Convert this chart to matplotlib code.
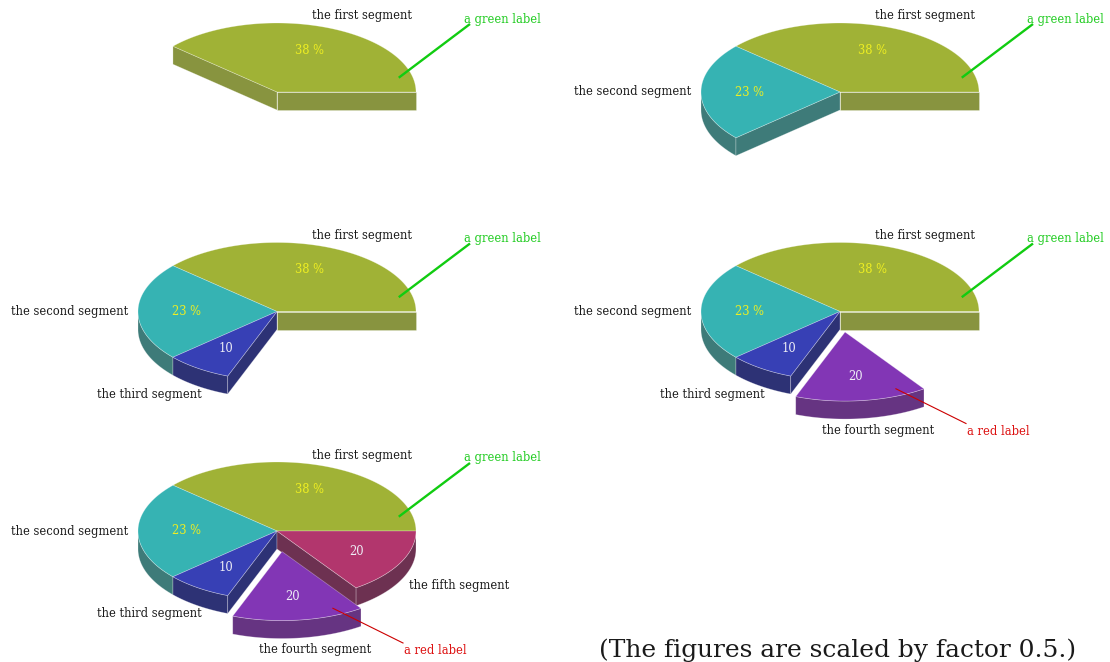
import numpy as np
import matplotlib
matplotlib.use("Agg")
import matplotlib.pyplot as plt
from matplotlib.patches import Polygon

# ---- data -------------------------------------------------------------
segment_names = ["the first segment", "the second segment", "the third segment",
                 "the fourth segment", "the fifth segment"]
values = [50, 30, 10, 20, 20]
show_percent = [True, True, False, False, False]
explode = [0.0, 0.0, 0.0, 0.3, 0.0]
segments_per_panel = [1, 2, 3, 4, 5]

top_colors = ["#a0b236", "#36b3b3", "#3740b5", "#8236b5", "#b2366d"]
side_colors = ["#88943f", "#3e7b79", "#2d3275", "#663482", "#6d3151"]
value_colors = ["#eeee22", "#eeee22", "#eeeef6", "#eeeef6", "#eeeef6"]

# ---- layout -----------------------------------------------------------
RX, RY, DEPTH = 139.0, 69.0, 18.0
panel_centers = [(277, 92), (840, 92), (277, 311.5), (840, 311.5), (277, 531)]
name_offsets = [(85, -76, "center"), (-149, 0, "right"), (-128, 83, "center"),
                (38, 119, "center"), (132, 54, "left")]
FS = 8.3
SERIF = "DejaVu Serif"

total = float(sum(values))
spans = [v / total * 360.0 for v in values]
starts = np.concatenate([[0.0], np.cumsum(spans)[:-1]])
ends = starts + np.array(spans)
mids = (starts + ends) / 2
value_labels = [f"{round(v / total * 100)} %" if pct else f"{v}"
                for v, pct in zip(values, show_percent)]


def pt(cx, cy, t, r=1.0, dz=0.0):
    t = np.radians(t)
    return np.column_stack([cx + r * RX * np.cos(t), cy - r * RY * np.sin(t) + dz])


fig = plt.figure(figsize=(11.1, 6.62), dpi=100)
ax = fig.add_axes([0, 0, 1, 1])
ax.set_xlim(0, 1110)
ax.set_ylim(662, 0)
ax.axis("off")

edge_kw = dict(edgecolor=(1, 1, 1, 0.35), linewidth=0.5, joinstyle="round")


def draw_segment(cx, cy, i, exposed_start, exposed_end):
    a, b = starts[i], ends[i]
    m = np.radians(mids[i])
    x0 = cx + explode[i] * RX * np.cos(m)
    y0 = cy - explode[i] * RY * np.sin(m)
    # curved outer wall, front half only
    lo, hi = max(a, 180.0), min(b, 360.0)
    if hi > lo:
        tt = np.linspace(lo, hi, 80)
        top = pt(x0, y0, tt)
        bot = pt(x0, y0, tt[::-1], dz=DEPTH)
        ax.add_patch(Polygon(np.vstack([top, bot]), closed=True,
                             facecolor=side_colors[i], **edge_kw))
    # radial walls where no neighbour covers them
    for ang, exposed, face in ((a, exposed_start, np.cos(np.radians(a)) >= 0),
                               (b, exposed_end, np.cos(np.radians(b)) < 0)):
        if exposed and face:
            rim = pt(x0, y0, [ang])[0]
            poly = [(x0, y0), rim, (rim[0], rim[1] + DEPTH), (x0, y0 + DEPTH)]
            ax.add_patch(Polygon(poly, closed=True, facecolor=side_colors[i], **edge_kw))
    # top face
    tt = np.linspace(a, b, 160)
    arc = pt(x0, y0, tt)
    ax.add_patch(Polygon(np.vstack([[x0, y0], arc]), closed=True,
                         facecolor=top_colors[i], **edge_kw))
    # value inside
    lp = pt(x0, y0, [mids[i]], r=0.65)[0]
    ax.text(lp[0], lp[1], value_labels[i], color=value_colors[i], fontsize=FS,
            family=SERIF, ha="center", va="center")
    return x0, y0


for p, (cx, cy) in enumerate(panel_centers):
    n = segments_per_panel[p]
    shown = list(range(n))
    order = [i for i in shown if explode[i] == 0] + [i for i in shown if explode[i] != 0]
    origins = {}
    for i in order:
        prev_i = (i - 1) % len(values)
        next_i = (i + 1) % len(values)
        exp_s = (prev_i not in shown) or explode[prev_i] != 0 or explode[i] != 0
        exp_e = (next_i not in shown) or explode[next_i] != 0 or explode[i] != 0
        origins[i] = draw_segment(cx, cy, i, exp_s, exp_e)
    for i in shown:
        dx, dy, ha = name_offsets[i]
        ax.text(cx + dx, cy + dy, segment_names[i], fontsize=FS, family=SERIF,
                color="#1a1a1a", ha=ha, va="center")
    # green pin on the first segment
    gx, gy = origins[0]
    g0 = pt(gx, gy, [13.3], r=0.9)[0]
    ax.plot([g0[0], cx + 193], [g0[1], cy - 68], color="#11cc11", lw=1.7,
            solid_capstyle="butt")
    ax.text(cx + 187, cy - 73, "a green label", fontsize=FS, family=SERIF,
            color="#22cc22", ha="left", va="center")
    # red pin on the fourth segment
    if 3 in shown:
        rx0, ry0 = origins[3]
        r0 = pt(rx0, ry0, [294.0], r=0.9)[0]
        ax.plot([r0[0], cx + 126], [r0[1], cy + 112], color="#cc0000", lw=0.8)
        ax.text(cx + 127, cy + 120, "a red label", fontsize=FS, family=SERIF,
                color="#dd1111", ha="left", va="center")

ax.text(838, 650, "(The figures are scaled by factor 0.5.)", fontsize=17.9,
        family=SERIF, color="#1a1a1a", ha="center", va="center")

fig.savefig("out.png", dpi=100)
